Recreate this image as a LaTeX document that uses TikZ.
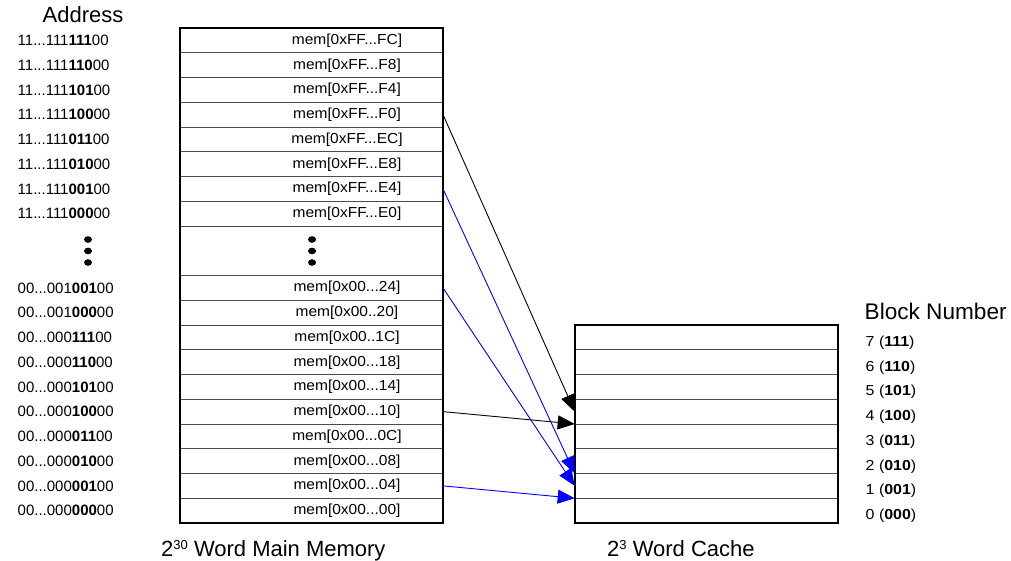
\documentclass[tikz,border=0pt]{standalone}
\usepackage{fontspec}
\setmainfont{Liberation Sans}
\newfontfamily\memfont[FakeStretch=1.07]{Liberation Sans}
\newfontfamily\blkfont[FakeStretch=1.1]{Liberation Sans}
\usetikzlibrary{arrows.meta}
\newcommand{\ddd}{...}
\newcommand{\supnum}[1]{\raisebox{6.6pt}{\fontsize{13}{13}\selectfont #1}}
\newcommand{\addrtext}[2]{{\fontsize{15}{17}\selectfont #1\textbf{#2}00}}
\begin{document}
\begin{tikzpicture}[x=1pt,y=-1pt,
  cell/.style={draw=black!70,line width=0.9pt,minimum width=263pt,minimum height=24.75pt,inner sep=0pt,outer sep=0pt},
  frame/.style={draw=black,line width=2pt},
  addrlabel/.style={anchor=base west,inner sep=0pt},
  memtxt/.style={anchor=base,inner sep=0pt,font=\memfont\fontsize{14.5}{16}\selectfont},
  blk/.style={anchor=base west,inner sep=0pt,font=\blkfont\fontsize{14.5}{16}\selectfont},
  heading/.style={anchor=base west,inner sep=0pt,font=\fontsize{22}{26}\selectfont},
  caption/.style={anchor=base west,inner sep=0pt,font=\fontsize{22}{26}\selectfont},
  blackarrow/.style={draw=black,line width=0.9pt,-{Triangle[length=17pt,width=14pt]}},
  bluearrow/.style={draw=blue,line width=0.9pt,-{Triangle[length=17pt,width=14pt]}},
  bigdot/.style={fill=black}
]
\useasboundingbox (0,0) rectangle (1011,561);

% memory cells, addresses and contents
\foreach \i/\pre/\bits/\mem in {
  0/11\ddd111/111/mem[0xFF\ddd FC],
  1/11\ddd111/110/mem[0xFF\ddd F8],
  2/11\ddd111/101/mem[0xFF\ddd F4],
  3/11\ddd111/100/mem[0xFF\ddd F0],
  4/11\ddd111/011/mem[0xFF\ddd EC],
  5/11\ddd111/010/mem[0xFF\ddd E8],
  6/11\ddd111/001/mem[0xFF\ddd E4],
  7/11\ddd111/000/mem[0xFF\ddd E0],
  10/00\ddd001/001/mem[0x00\ddd 24],
  11/00\ddd001/000/mem[0x00..20],
  12/00\ddd000/111/mem[0x00..1C],
  13/00\ddd000/110/mem[0x00\ddd 18],
  14/00\ddd000/101/mem[0x00\ddd 14],
  15/00\ddd000/100/mem[0x00\ddd 10],
  16/00\ddd000/011/mem[0x00\ddd 0C],
  17/00\ddd000/010/mem[0x00\ddd 08],
  18/00\ddd000/001/mem[0x00\ddd 04],
  19/00\ddd000/000/mem[0x00\ddd 00]}{
  \pgfmathsetmacro{\yc}{40.375+24.75*\i}
  \node[cell] (m\i) at (311.5,\yc) {};
  \node[memtxt] (t\i) at (347,\yc+4) {\mem};
  \node[addrlabel] (a\i) at (17.5,\yc+5.3) {\addrtext{\pre}{\bits}};
}
\draw[frame] (180,28) rectangle (443,523);

% vertical ellipses
\foreach \yy in {239.5,251,262.5}{
  \fill[bigdot] (88,\yy) ellipse [x radius=4pt, y radius=3.3pt];
  \fill[bigdot] (312,\yy) ellipse [x radius=4pt, y radius=3.3pt];
}

% cache cells and block numbers
\foreach \b/\bits in {7/111,6/110,5/101,4/100,3/011,2/010,1/001,0/000}{
  \pgfmathsetmacro{\yc}{40.375+24.75*(19-\b)}
  \node[cell] (c\b) at (706.2,\yc) {};
  \node[blk] (b\b) at (865.5,\yc+9) {\b\ (\textbf{\bits})};
}
\draw[frame] (574.7,325) rectangle (837.7,523);

% headings and captions
\node[heading] (haddr) at (42.5,22.3) {Address};
\node[heading,font=\fontsize{22.6}{26}\selectfont] (hblk) at (864.5,319.3) {Block Number};
\node[caption] (capmem) at (161,556) {2\supnum{30} Word Main Memory};
\node[caption] (capcache) at (607,556) {2\supnum{3} Word Cache};

% mapping arrows
\draw[blackarrow] (m3.east) -- (c4.west);
\draw[blackarrow] (m15.east) -- (c4.south west);
\draw[bluearrow] (m6.east) -- (c1.north west);
\draw[bluearrow] (m10.east) -- (c1.west);
\draw[bluearrow] (m18.east) -- (c1.south west);
\end{tikzpicture}
\end{document}
